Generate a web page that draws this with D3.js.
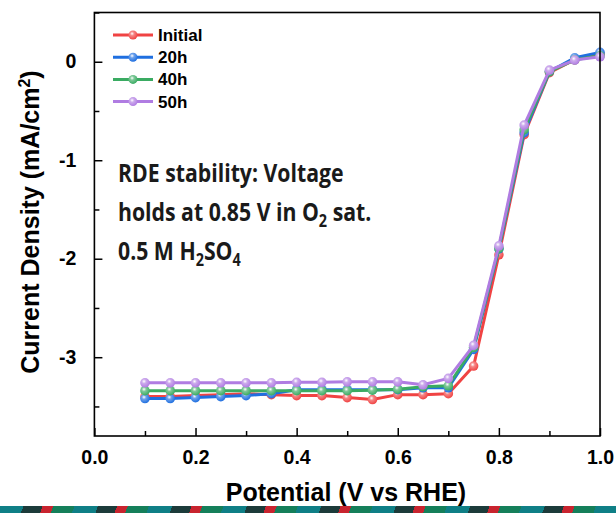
<!DOCTYPE html>
<html>
<head>
<meta charset="utf-8">
<script src="https://cdn.jsdelivr.net/npm/d3@7"></script>
<style>
  body { margin: 0; background: #fff; }
  #wrap { position: relative; width: 616px; height: 513px; overflow: hidden; }
  #band { position: absolute; left: 0; top: 506px; width: 616px; height: 7px;
    background: repeating-linear-gradient(110deg, #0f7f86 0 22px, #1c3b3a 22px 40px, #c8242f 40px 50px, #157f5a 50px 70px); }
</style>
</head>
<body>
<div id="wrap"><svg id="chart" width="616" height="513"></svg><div id="band"></div></div>
<script>
var potential = [0.10, 0.15, 0.20, 0.25, 0.30, 0.35, 0.40, 0.45, 0.50, 0.55, 0.60, 0.65, 0.70, 0.75, 0.80, 0.85, 0.90, 0.95, 1.00];
var initial = [-3.40, -3.40, -3.39, -3.38, -3.37, -3.38, -3.39, -3.39, -3.41, -3.43, -3.38, -3.38, -3.37, -3.09, -1.96, -0.74, -0.11, 0.02, 0.08];
var h20 = [-3.42, -3.42, -3.41, -3.40, -3.39, -3.37, -3.33, -3.33, -3.33, -3.33, -3.33, -3.31, -3.31, -2.92, -1.90, -0.72, -0.10, 0.04, 0.095];
var h40 = [-3.34, -3.34, -3.34, -3.34, -3.34, -3.34, -3.34, -3.34, -3.34, -3.335, -3.325, -3.30, -3.29, -2.90, -1.895, -0.69, -0.10, 0.02, 0.06];
var h50 = [-3.26, -3.26, -3.26, -3.26, -3.26, -3.26, -3.255, -3.255, -3.25, -3.25, -3.25, -3.28, -3.215, -2.88, -1.87, -0.643, -0.085, 0.017, 0.05];
var seriesNames = ['Initial', '20h', '40h', '50h'];
var seriesColors = ['#f04343', '#1f6fe0', '#3aab62', '#b07ce2'];
var xTickValues = [0.0, 0.2, 0.4, 0.6, 0.8, 1.0];
var yTickValues = [0, -1, -2, -3];

var svg = d3.select('#chart');
var margin = {top: 12.5, right: 16, bottom: 77, left: 94.4};
var width = 600 - margin.left, height = 436 - margin.top;
var axisFont = 'Liberation Sans, Arial, sans-serif';

var x = d3.scaleLinear().domain([0, 1.0]).range([margin.left, margin.left + width]);
var y = d3.scaleLinear().domain([-3.8, 0.5]).range([margin.top + height, margin.top]);

var defs = svg.append('defs');
seriesColors.forEach(function (c, i) {
    var g = defs.append('radialGradient').attr('id', 'ball' + i)
        .attr('cx', '40%').attr('cy', '35%').attr('r', '65%');
    g.append('stop').attr('offset', '0%').attr('stop-color', '#ffffff');
    g.append('stop').attr('offset', '35%').attr('stop-color', d3.interpolateRgb(c, '#fff')(0.35));
    g.append('stop').attr('offset', '100%').attr('stop-color', c);
});

var data = [initial, h20, h40, h50];
var line = d3.line().x(function (d, i) { return x(potential[i]); }).y(function (d) { return y(d); });

var plot = svg.append('g');
data.forEach(function (vals, s) {
    plot.append('path').datum(vals).attr('d', line)
        .attr('fill', 'none').attr('stroke', seriesColors[s]).attr('stroke-width', 3)
        .attr('stroke-linejoin', 'round');
    plot.selectAll('.pt' + s).data(vals).enter().append('circle')
        .attr('cx', function (d, i) { return x(potential[i]); })
        .attr('cy', function (d) { return y(d); })
        .attr('r', 4.8)
        .attr('fill', 'url(#ball' + s + ')');
});

// axes: ticks pointing inward, hyphen minus like the original
var hyphen = function (d) { return String(d).replace('\u2212', '-'); };
svg.append('g').attr('transform', 'translate(0,' + (margin.top + height) + ')')
    .call(d3.axisBottom(x).tickValues(xTickValues).tickSize(-8).tickPadding(14).tickFormat(d3.format('.1f')));
svg.append('g').attr('transform', 'translate(0,' + (margin.top + height) + ')')
    .call(d3.axisBottom(x).tickValues([0.1, 0.3, 0.5, 0.7, 0.9]).tickSize(-5).tickFormat(''));
svg.append('g').attr('transform', 'translate(' + margin.left + ',0)')
    .call(d3.axisLeft(y).tickValues(yTickValues).tickSize(-8).tickPadding(18).tickFormat(hyphen));
svg.append('g').attr('transform', 'translate(' + margin.left + ',0)')
    .call(d3.axisLeft(y).tickValues([0.5, -0.5, -1.5, -2.5, -3.5]).tickSize(-5).tickFormat(''));

svg.selectAll('.domain').remove();
svg.selectAll('.tick line').attr('stroke', '#000').attr('stroke-width', 1.5);
svg.selectAll('.tick text').attr('font-family', axisFont)
    .attr('font-weight', 'bold').attr('font-size', 19.5).attr('fill', '#000');

svg.append('rect').attr('x', margin.left).attr('y', margin.top).attr('width', width).attr('height', height)
    .attr('fill', 'none').attr('stroke', '#000').attr('stroke-width', 1.6);

// axis titles
svg.append('text').attr('x', 346).attr('y', 501).attr('text-anchor', 'middle')
    .attr('font-family', axisFont).attr('font-weight', 'bold').attr('font-size', 25)
    .text('Potential (V vs RHE)');
var yt = svg.append('text').attr('transform', 'translate(39,222) rotate(-90)').attr('text-anchor', 'middle')
    .attr('font-family', axisFont).attr('font-weight', 'bold').attr('font-size', 25);
yt.append('tspan').text('Current Density (mA/cm');
yt.append('tspan').attr('dy', -9).attr('font-size', 16).text('2');
yt.append('tspan').attr('dy', 9).text(')');

// legend
var legend = svg.append('g');
seriesNames.forEach(function (name, i) {
    var ly = 35 + i * 22.2;
    legend.append('line').attr('x1', 113).attr('x2', 153).attr('y1', ly).attr('y2', ly)
        .attr('stroke', seriesColors[i]).attr('stroke-width', 3);
    legend.append('circle').attr('cx', 133).attr('cy', ly).attr('r', 4.5).attr('fill', 'url(#ball' + i + ')');
    legend.append('text').attr('x', 158).attr('y', ly + 6).text(name)
        .attr('font-family', axisFont).attr('font-weight', 'bold').attr('font-size', 17);
});

// annotation (narrowed to mimic the original's condensed face)
var note = svg.append('g').attr('transform', 'translate(118,0) scale(0.85,1)')
    .append('text').attr('font-family', 'Open Sans, Noto Sans, sans-serif')
    .attr('font-weight', 'bold').attr('font-size', 25).attr('fill', '#1a1a1a');
note.append('tspan').attr('x', 0).attr('y', 182).text('RDE stability: Voltage');
note.append('tspan').attr('x', 0).attr('y', 221).text('holds at 0.85 V in O');
note.append('tspan').attr('dy', 6).attr('font-size', 17).text('2');
note.append('tspan').attr('dy', -6).text(' sat.');
note.append('tspan').attr('x', 0).attr('y', 260).text('0.5 M H');
note.append('tspan').attr('dy', 6).attr('font-size', 17).text('2');
note.append('tspan').attr('dy', -6).text('SO');
note.append('tspan').attr('dy', 6).attr('font-size', 17).text('4');
</script>
</body>
</html>
